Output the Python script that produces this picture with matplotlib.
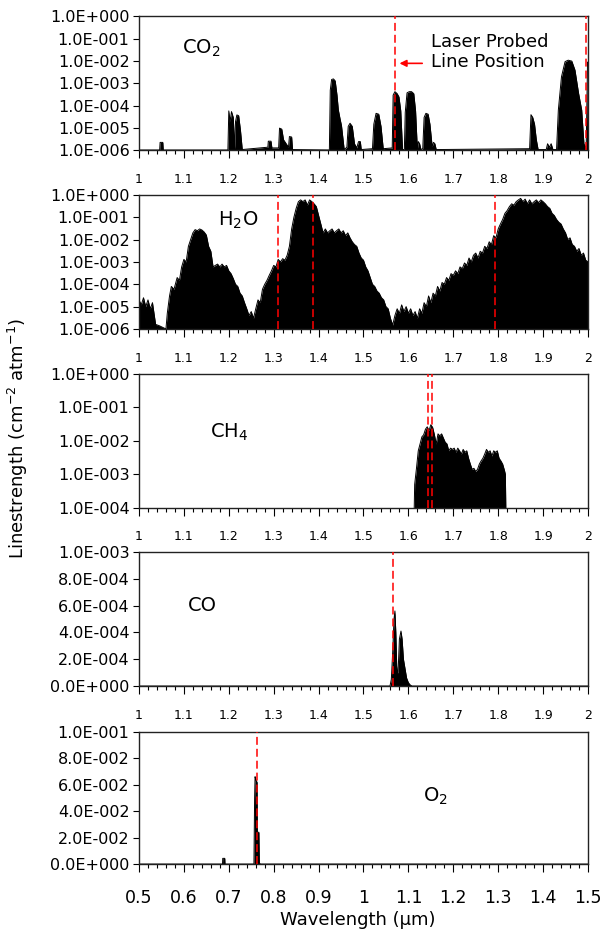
import numpy as np
import matplotlib
matplotlib.use('Agg')
import matplotlib.pyplot as plt
from matplotlib.ticker import MultipleLocator, FixedLocator, FuncFormatter, NullLocator

# --- data (envelope of each line forest) ---
co2_wl = [1.000, 1.046, 1.047, 1.053, 1.054,
          1.198, 1.200, 1.203, 1.206, 1.210, 1.213, 1.215, 1.218, 1.222, 1.226, 1.230,
          1.287, 1.288, 1.294, 1.296, 1.311, 1.313, 1.318, 1.322, 1.333, 1.335, 1.340, 1.342,
          1.424, 1.426, 1.429, 1.433, 1.437, 1.441, 1.444, 1.448, 1.451, 1.457,
          1.463, 1.466, 1.470, 1.475, 1.480, 1.485, 1.489, 1.493, 1.495,
          1.520, 1.523, 1.528, 1.534, 1.539, 1.544,
          1.564, 1.566, 1.570, 1.575, 1.579, 1.583, 1.587,
          1.591, 1.593, 1.597, 1.602, 1.607, 1.612, 1.616, 1.620,
          1.622, 1.625, 1.628, 1.632, 1.635, 1.639, 1.644, 1.648, 1.653,
          1.656, 1.659, 1.662, 1.665,
          1.870, 1.873, 1.877, 1.881, 1.885, 1.889, 1.893,
          1.907, 1.910, 1.914, 1.918, 1.922, 1.925,
          1.930, 1.934, 1.941, 1.949, 1.956, 1.964, 1.971, 1.979, 1.986, 1.991, 1.996, 1.999, 2.000]
co2_s = [1.05e-6, 1.05e-6, 2.3e-6, 2.3e-6, 1.05e-6,
         1.05e-6, 5.9e-5, 2e-5, 5.5e-5, 3e-5, 1.2e-6, 2e-5, 3.9e-5, 3.6e-5, 8e-6, 1.1e-6,
         1.4e-6, 2.6e-6, 2.6e-6, 1.3e-6, 1.3e-6, 1e-5, 9e-6, 3e-6, 1.4e-6, 4.2e-6, 4e-6, 1.1e-6,
         1.05e-6, 5e-4, 1.5e-3, 1.6e-3, 1.3e-3, 3e-4, 6.5e-5, 2.5e-5, 1.3e-5, 1.1e-6,
         1.4e-6, 1.2e-5, 1.65e-5, 1.2e-5, 2e-6, 1.3e-6, 2.5e-6, 2.5e-6, 1.1e-6,
         1.2e-6, 1.5e-5, 4.6e-5, 4.2e-5, 1.2e-5, 1.2e-6,
         1.3e-6, 3e-4, 4.3e-4, 3.5e-4, 2.5e-4, 6e-5, 1.1e-6,
         1.1e-6, 5e-5, 3.8e-4, 4.3e-4, 4.3e-4, 3.5e-4, 6e-5, 1.1e-6,
         2.5e-6, 2e-6, 1.1e-6, 1.2e-6, 3e-5, 4.6e-5, 4.2e-5, 1.5e-5, 1.5e-6,
         2.3e-6, 2e-6, 1.1e-6, 1.1e-6,
         1.2e-6, 4e-5, 3e-5, 1.5e-5, 3e-6, 1.1e-6, 1.1e-6,
         1.1e-6, 2e-6, 1.4e-6, 2e-6, 1.1e-6, 1.1e-6,
         1.1e-6, 6.5e-5, 2e-3, 9.5e-3, 1.1e-2, 1e-2, 4e-3, 3.7e-4, 6.5e-5, 2e-6, 1.2e-6, 9e-3, 9e-3]

h2o_wl = [1.000, 1.005, 1.010, 1.015, 1.020, 1.025, 1.030, 1.035, 1.037, 1.045, 1.060,
          1.063, 1.068, 1.072, 1.078, 1.085, 1.090, 1.095, 1.100, 1.105, 1.110, 1.115,
          1.120, 1.125, 1.130, 1.135, 1.140, 1.145, 1.150, 1.155, 1.160, 1.165, 1.170,
          1.175, 1.180, 1.185, 1.190, 1.195, 1.200, 1.205, 1.210, 1.215, 1.220, 1.225,
          1.230, 1.235, 1.240, 1.245, 1.250, 1.255, 1.260, 1.265, 1.270, 1.275, 1.280,
          1.285, 1.290, 1.295, 1.300, 1.305, 1.310, 1.315, 1.320, 1.325, 1.330, 1.335,
          1.340, 1.345, 1.350, 1.355, 1.360, 1.365, 1.370, 1.375, 1.380, 1.385, 1.390,
          1.395, 1.400, 1.405, 1.410, 1.415, 1.420, 1.425, 1.430, 1.435, 1.440, 1.445,
          1.450, 1.455, 1.460, 1.465, 1.470, 1.475, 1.480, 1.485, 1.490, 1.495, 1.500,
          1.505, 1.510, 1.515, 1.520, 1.525, 1.530, 1.535, 1.540, 1.545, 1.550, 1.555,
          1.560, 1.565, 1.570, 1.575, 1.580, 1.585, 1.590, 1.595, 1.600, 1.605, 1.610,
          1.615, 1.620, 1.625, 1.630, 1.635, 1.640, 1.645, 1.650, 1.655, 1.660, 1.665,
          1.670, 1.675, 1.680, 1.685, 1.690, 1.695, 1.700, 1.705, 1.710, 1.715, 1.720,
          1.725, 1.730, 1.735, 1.740, 1.745, 1.750, 1.755, 1.760, 1.765, 1.770, 1.775,
          1.780, 1.785, 1.790, 1.795, 1.800, 1.805, 1.810, 1.815, 1.820, 1.825, 1.830,
          1.835, 1.840, 1.845, 1.850, 1.855, 1.860, 1.865, 1.870, 1.875, 1.880, 1.885,
          1.890, 1.895, 1.900, 1.905, 1.910, 1.915, 1.920, 1.925, 1.930, 1.935, 1.940,
          1.945, 1.950, 1.955, 1.960, 1.965, 1.970, 1.975, 1.980, 1.985, 1.990, 1.995, 2.000]
h2o_s = [2e-5, 1.2e-5, 2.5e-5, 1e-5, 2e-5, 8e-6, 1.5e-5, 3e-6, 1.6e-6, 1.4e-6, 1.0e-6,
         5e-6, 3e-5, 8e-5, 6e-5, 2e-4, 1.5e-4, 6e-4, 1.3e-3, 1e-3, 5e-3, 1e-2,
         2e-2, 2.8e-2, 2.5e-2, 3e-2, 2.7e-2, 2.2e-2, 1.6e-2, 5e-3, 3e-3, 6e-4, 7e-4,
         8e-4, 6e-4, 8e-4, 6e-4, 7e-4, 4e-4, 3e-4, 1.8e-4, 1e-4, 8e-5, 4e-5,
         3e-5, 1.5e-5, 8e-6, 4e-6, 6e-6, 3e-6, 8e-6, 2e-5, 1.5e-5, 6e-5, 1e-4,
         1.5e-4, 2.5e-4, 4e-4, 7e-4, 6e-4, 1.3e-3, 1e-3, 1.4e-3, 1.2e-3, 2e-3, 5e-3,
         3e-2, 1e-1, 2.5e-1, 5e-1, 6e-1, 5e-1, 6e-1, 3.5e-1, 6e-1, 5e-1, 4e-1,
         3e-1, 1.2e-1, 5e-2, 2e-2, 3e-2, 2e-2, 2.5e-2, 3e-2, 2e-2, 2.5e-2, 3e-2,
         2e-2, 2.5e-2, 1.5e-2, 2e-2, 1.2e-2, 8e-3, 6e-3, 5e-3, 2.5e-3, 1.5e-3, 1.2e-3,
         6e-4, 4e-4, 2e-4, 1e-4, 8e-5, 5e-5, 4e-5, 2.5e-5, 2e-5, 1e-5, 8e-6,
         3e-6, 1.5e-6, 4e-6, 8e-6, 5e-6, 1.2e-5, 6e-6, 1e-5, 5e-6, 8e-6, 4e-6,
         6e-6, 3e-6, 8e-6, 5e-6, 1.5e-5, 1e-5, 3e-5, 1.5e-5, 4e-5, 3e-5, 8e-5,
         5e-5, 1.2e-4, 1e-4, 2e-4, 1.5e-4, 3e-4, 2.5e-4, 4e-4, 3e-4, 6e-4, 5e-4,
         9e-4, 7e-4, 1.5e-3, 1e-3, 2e-3, 2.5e-3, 1.5e-3, 3e-3, 2.5e-3, 5e-3, 4e-3,
         8e-3, 6e-3, 1.5e-2, 1.2e-2, 3e-2, 5e-2, 8e-2, 1.5e-1, 2e-1, 3e-1, 4e-1,
         3.5e-1, 5e-1, 6e-1, 7e-1, 5e-1, 6.5e-1, 4e-1, 6e-1, 4e-1, 5e-1, 6e-1,
         4.5e-1, 6e-1, 5e-1, 4e-1, 3e-1, 2.5e-1, 1.5e-1, 1.2e-1, 8e-2, 6e-2, 5e-2,
         3e-2, 2e-2, 1e-2, 1.2e-2, 6e-3, 5e-3, 3e-3, 4e-3, 2e-3, 2.5e-3, 1.2e-3, 1e-3]

ch4_wl = [1.613, 1.614, 1.618, 1.622, 1.626, 1.630, 1.634, 1.638, 1.642, 1.646, 1.650,
          1.654, 1.658, 1.662, 1.666, 1.670, 1.674, 1.678, 1.682, 1.686, 1.690, 1.694,
          1.698, 1.702, 1.706, 1.710, 1.714, 1.718, 1.722, 1.726, 1.730, 1.734, 1.738,
          1.742, 1.746, 1.750, 1.754, 1.758, 1.762, 1.766, 1.770, 1.774, 1.778, 1.782,
          1.786, 1.790, 1.794, 1.798, 1.802, 1.806, 1.810, 1.814, 1.816, 1.817]
ch4_s = [1e-4, 5e-4, 1.5e-3, 5e-3, 8e-3, 1.3e-2, 1.5e-2, 2.2e-2, 2.6e-2, 2e-2, 3e-2,
         2.5e-2, 1.5e-2, 8e-3, 1.6e-2, 1.4e-2, 1.6e-2, 1.2e-2, 9e-3, 8e-3, 5e-3, 6e-3,
         5.5e-3, 6e-3, 4.5e-3, 6e-3, 5e-3, 4e-3, 5.5e-3, 4.5e-3, 5e-3, 3e-3, 2e-3,
         1.4e-3, 1.5e-3, 1.2e-3, 1.4e-3, 2e-3, 2.5e-3, 3e-3, 4e-3, 5.5e-3, 4.5e-3, 5e-3,
         3.5e-3, 5e-3, 4.5e-3, 5e-3, 3e-3, 2.5e-3, 2e-3, 1.3e-3, 1e-3, 1e-4]

co_wl = [1.000, 1.559, 1.562, 1.565, 1.568, 1.570, 1.572, 1.574, 1.5755, 1.577, 1.580,
         1.5835, 1.586, 1.589, 1.5925, 1.596, 1.600, 1.604, 1.608, 2.000]
co_s = [0, 0, 5e-5, 2.5e-4, 5e-4, 5.6e-4, 4e-4, 1.5e-4, 1e-4, 1e-4, 3.5e-4,
        4.1e-4, 3.5e-4, 2e-4, 1.3e-4, 6e-5, 2.5e-5, 8e-6, 0, 0]

o2_wl = [0.500, 0.686, 0.6865, 0.691, 0.6915, 0.756, 0.7575, 0.7585, 0.760, 0.762,
         0.763, 0.7635, 0.767, 0.768, 0.770, 1.500]
o2_s = [0, 0, 4.3e-3, 4.3e-3, 0, 0, 5e-2, 6.6e-2, 6.4e-2, 6.2e-2,
        6.2e-2, 2.4e-2, 2.4e-2, 1e-3, 0, 0]

# laser probed line positions (um)
co2_lines = [1.570, 1.996]
h2o_lines = [1.309, 1.388, 1.793]
ch4_lines = [1.644, 1.652]
co_lines = [1.565]
o2_lines = [0.762]


def sci_label(v, pos=None):
    if v == 0:
        return '0.0E+000'
    e = int(np.floor(np.log10(abs(v)) + 1e-9))
    m = v / 10.0 ** e
    sign = '+' if e >= 0 else '-'
    return f'{m:.1f}E{sign}{abs(e):03d}'


fig = plt.figure(figsize=(6.02, 9.34), dpi=100)

L, W = 0.2309, 0.7458
H = 0.1435


def make_panel(bottom, xlim, ylim, log, ystep=None, xsize=9, xpad=10.5, height=H):
    ax = fig.add_axes([L, bottom, W, height])
    ax.set_xlim(*xlim)
    if log:
        ax.set_yscale('log')
        lo, hi = int(np.log10(ylim[0])), int(np.log10(ylim[1]))
        ax.yaxis.set_major_locator(FixedLocator(10.0 ** np.arange(lo, hi + 1)))
        ax.yaxis.set_minor_locator(NullLocator())
    else:
        ax.yaxis.set_major_locator(MultipleLocator(ystep))
    ax.set_ylim(*ylim)
    ax.yaxis.set_major_formatter(FuncFormatter(sci_label))
    ax.xaxis.set_major_locator(MultipleLocator(0.1))
    ax.xaxis.set_minor_locator(MultipleLocator(0.02))
    ax.xaxis.set_major_formatter(FuncFormatter(lambda v, p: f'{round(v, 2):g}'))
    ax.tick_params(axis='x', which='major', direction='out', length=5.8, width=0.8,
                   labelsize=xsize, pad=xpad)
    ax.tick_params(axis='x', which='minor', direction='out', length=2.9, width=0.8)
    ax.tick_params(axis='y', direction='out', length=4.3, width=0.8, labelsize=11.5, pad=2.5)
    for s in ax.spines.values():
        s.set_linewidth(1.0)
        s.set_color('#222222')
    return ax


def draw_spectrum(ax, wl, s, floor):
    ax.fill_between(wl, floor, s, color='black', lw=0, zorder=2)
    ax.plot(wl, s, color='black', lw=0.7, zorder=2)


def draw_lines(ax, lines):
    for x in lines:
        ax.axvline(x, color='red', lw=1.1, dashes=(5.2, 2.6), zorder=3)


ax1 = make_panel(0.8389, (1, 2), (1e-6, 1), True)
draw_spectrum(ax1, co2_wl, co2_s, 1e-6)
draw_lines(ax1, co2_lines)
ax1.text(0.096, 0.76, 'CO$_2$', transform=ax1.transAxes, fontsize=14, va='center')
ax1.text(0.651, 0.735, 'Laser Probed\nLine Position', transform=ax1.transAxes,
         fontsize=13, va='center', ha='left', linespacing=1.1)
ax1.annotate('', xy=(1.574, 0.65), xytext=(1.637, 0.65),
             xycoords=('data', 'axes fraction'), textcoords=('data', 'axes fraction'),
             arrowprops=dict(arrowstyle='-|>', color='red', lw=1.2, mutation_scale=10))

ax2 = make_panel(0.6478, (1, 2), (1e-6, 1), True)
draw_spectrum(ax2, h2o_wl, h2o_s, 1e-6)
draw_lines(ax2, h2o_lines)
ax2.text(0.176, 0.81, 'H$_2$O', transform=ax2.transAxes, fontsize=14, va='center')

ax3 = make_panel(0.4564, (1, 2), (1e-4, 1), True)
draw_spectrum(ax3, ch4_wl, ch4_s, 1e-4)
draw_lines(ax3, ch4_lines)
ax3.text(0.158, 0.56, 'CH$_4$', transform=ax3.transAxes, fontsize=14, va='center')

ax4 = make_panel(0.2655, (1, 2), (0, 1e-3), False, ystep=2e-4)
draw_spectrum(ax4, co_wl, co_s, 0)
draw_lines(ax4, co_lines)
ax4.text(0.109, 0.60, 'CO', transform=ax4.transAxes, fontsize=14, va='center')

ax5 = make_panel(0.0749, (0.5, 1.5), (0, 0.1), False, ystep=0.02,
                 xsize=12.5, xpad=12.5, height=0.1417)
draw_spectrum(ax5, o2_wl, o2_s, 0)
draw_lines(ax5, o2_lines)
ax5.text(0.632, 0.51, 'O$_2$', transform=ax5.transAxes, fontsize=14, va='center')

fig.text(0.595, 0.015, 'Wavelength (\u03bcm)', fontsize=13, ha='center', va='center')
fig.text(0.030, 0.531, 'Linestrength (cm$^{-2}$ atm$^{-1}$)', fontsize=13,
         rotation=90, ha='center', va='center')

fig.savefig('out.png', dpi=100)
